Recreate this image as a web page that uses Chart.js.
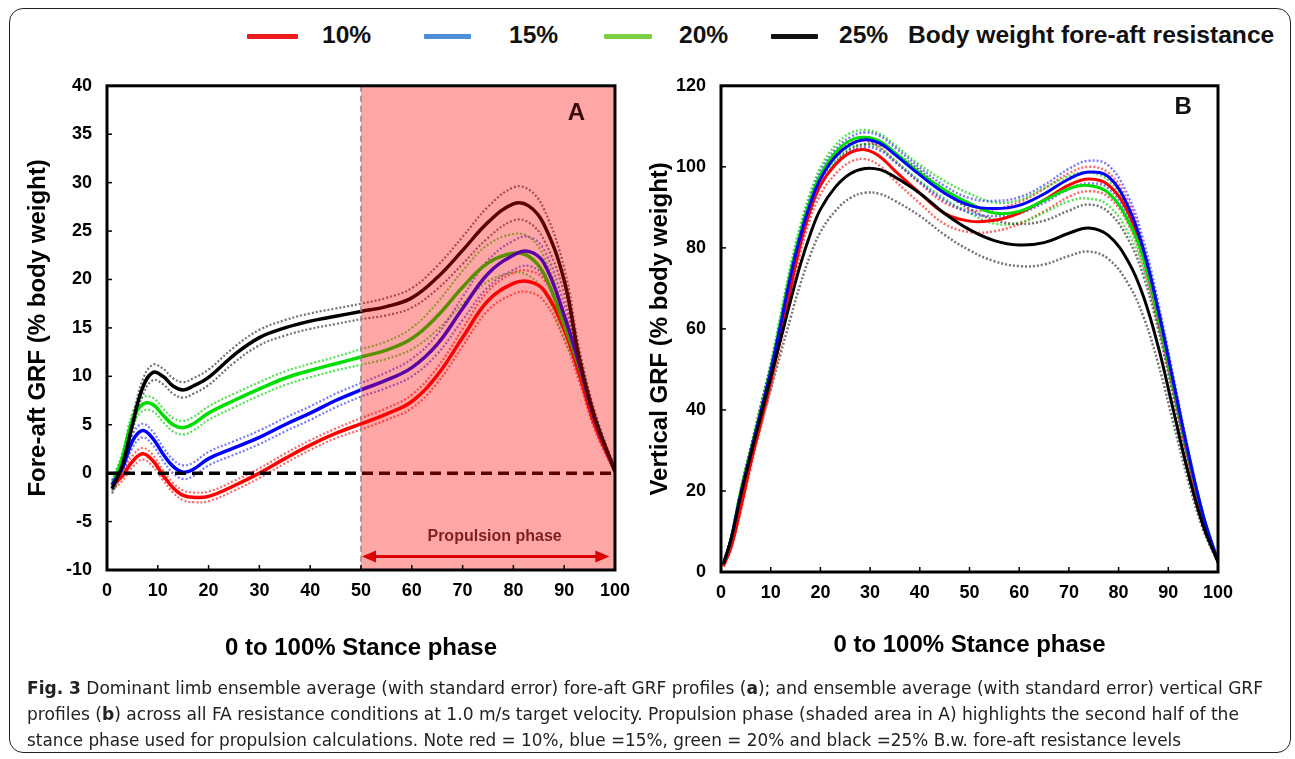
<!DOCTYPE html>
<html><head><meta charset="utf-8">
<script src="https://cdn.jsdelivr.net/npm/chart.js@4.4.1/dist/chart.umd.min.js"></script>
<style>
html,body{margin:0;padding:0;background:#fff;}
body{width:1295px;height:759px;position:relative;overflow:hidden;font-family:"Liberation Sans",Arial,sans-serif;}
#frame{position:absolute;left:9px;top:8px;width:1282px;height:745px;box-sizing:border-box;border:1.5px solid #222;border-radius:14px;}
canvas{position:absolute;}
#cA{left:0;top:60px;}
#cB{left:640px;top:60px;}
.lg-line{position:absolute;height:5px;top:34px;border-radius:1px;}
.lg-text{position:absolute;top:20px;font-weight:bold;font-size:24.6px;line-height:30px;color:#111;white-space:nowrap;}
#caption{position:absolute;left:27px;top:675px;font-family:"Liberation Sans Narrow","DejaVu Sans Condensed",sans-serif;font-size:17px;line-height:26px;color:#222;z-index:2;}
#caption .ln{display:block;white-space:nowrap;transform-origin:0 0;width:max-content;}
</style></head>
<body>
<div id="frame"></div>
<div id="legend"></div>
<canvas id="cA" width="640" height="620"></canvas>
<canvas id="cB" width="655" height="620"></canvas>
<div id="caption">
<span class="ln" data-w="1236"><b>Fig. 3</b> Dominant limb ensemble average (with standard error) fore-aft GRF profiles (<b>a</b>); and ensemble average (with standard error) vertical GRF</span>
<span class="ln" data-w="1212">profiles (<b>b</b>) across all FA resistance conditions at 1.0 m/s target velocity. Propulsion phase (shaded area in A) highlights the second half of the</span>
<span class="ln" data-w="1154">stance phase used for propulsion calculations. Note red = 10%, blue =15%, green = 20% and black =25% B.w. fore-aft resistance levels</span>
</div>
<script>
// ---------------- DATA ----------------
const SERIES_LABELS = ['10%', '15%', '20%', '25%'];
const LEGEND_SUFFIX = 'Body weight fore-aft resistance';

// Panel A: fore-aft GRF (% body weight) vs stance phase (%)
const X_FA = [1, 3, 5, 7, 9, 11, 13, 15, 17, 20, 25, 30, 35, 40, 45, 50, 55, 60, 65, 70, 75, 80, 83, 86, 90, 93, 96, 100];
const FA_10 = [-1.3, -0.3, 1.2, 2.0, 1.3, -0.2, -1.5, -2.3, -2.5, -2.4, -1.3, 0.0, 1.5, 2.9, 4.1, 5.1, 6.1, 7.4, 10.1, 14.0, 17.8, 19.6, 19.8, 18.9, 14.8, 10.2, 5.0, 0.2];
const FA_15 = [-1.2, 0.5, 3.3, 4.4, 3.6, 2.0, 0.7, 0.1, 0.4, 1.5, 2.6, 3.7, 5.0, 6.2, 7.5, 8.6, 9.6, 10.9, 13.3, 17.0, 20.6, 22.5, 22.9, 21.7, 16.3, 11.2, 5.6, 0.2];
const FA_20 = [-1.3, 1.5, 5.5, 7.1, 7.1, 6.0, 5.0, 4.7, 5.1, 6.2, 7.5, 8.7, 9.8, 10.6, 11.3, 12.0, 12.7, 13.9, 16.2, 19.2, 21.7, 22.7, 22.4, 20.6, 15.3, 10.9, 5.6, 0.2];
const FA_25 = [-1.6, 0.8, 5.0, 8.8, 10.4, 10.0, 9.0, 8.6, 9.0, 9.9, 12.2, 14.0, 15.0, 15.7, 16.2, 16.7, 17.2, 18.1, 20.2, 23.0, 25.9, 27.8, 27.6, 25.7, 19.9, 11.8, 5.8, 0.2];
const FA_SE_10 = [0.5, 0.5, 0.6, 0.6, 0.6, 0.5, 0.5, 0.5, 0.5, 0.5, 0.5, 0.5, 0.5, 0.5, 0.5, 0.6, 0.6, 0.7, 0.8, 0.9, 1.0, 1.1, 1.1, 1.1, 1.0, 0.8, 0.5, 0.2];
const FA_SE_15 = [0.5, 0.6, 0.7, 0.7, 0.7, 0.7, 0.7, 0.7, 0.7, 0.7, 0.7, 0.7, 0.7, 0.7, 0.7, 0.7, 0.8, 0.9, 1.0, 1.2, 1.4, 1.5, 1.5, 1.4, 1.2, 0.9, 0.6, 0.2];
const FA_SE_20 = [0.5, 0.6, 0.7, 0.7, 0.7, 0.7, 0.7, 0.7, 0.7, 0.7, 0.7, 0.7, 0.7, 0.7, 0.7, 0.8, 0.9, 1.1, 1.4, 1.7, 1.9, 2.0, 2.0, 1.8, 1.4, 1.0, 0.6, 0.2];
const FA_SE_25 = [0.5, 0.6, 0.7, 0.8, 0.8, 0.8, 0.8, 0.8, 0.8, 0.8, 0.8, 0.8, 0.8, 0.8, 0.8, 0.8, 0.9, 1.0, 1.2, 1.4, 1.6, 1.7, 1.7, 1.6, 1.3, 1.0, 0.6, 0.2];
const FA_ZERO_LINE = [0, 0];
const FA_ZERO_X = [0, 100];

// Panel B: vertical GRF (% body weight)
const X_V = [0.5, 2, 4, 6, 8, 10, 12, 14, 16, 18, 20, 23, 26, 29, 32, 35, 40, 45, 50, 55, 60, 65, 70, 74, 78, 82, 85, 88, 91, 94, 97, 100];
const V_10 = [1.5, 6, 16, 27, 37, 47, 58, 70, 81, 89.5, 95.5, 100.5, 103.5, 104.2, 102.5, 99, 93.5, 88.5, 86.6, 86.8, 88.6, 91.8, 95.5, 97, 95.5, 88.5, 78, 63, 46, 28.5, 13.5, 2.5];
const V_15 = [2, 8, 19.5, 29.5, 39.5, 49.5, 61, 73, 83, 91, 97, 102.5, 105.5, 106.7, 105.8, 103, 98, 93.5, 90.5, 89.7, 90.5, 93.3, 97, 98.7, 97.5, 90, 79.5, 64.5, 47, 29.5, 14, 2.5];
const V_20 = [2, 8, 20, 30, 40, 50, 62, 74, 84, 92, 98, 103.5, 106.5, 107.3, 106.3, 103.5, 98.5, 94.3, 91, 88.6, 89, 91.7, 94.6, 95.4, 93.5, 86.5, 77.5, 63, 46, 29, 14, 2.5];
const V_25 = [2, 8, 19, 29, 38.5, 48, 57.5, 67, 76, 83.5, 89.5, 95, 98.3, 99.6, 99.3, 97.5, 93.5, 88.5, 84.5, 81.8, 80.7, 81.3, 83.6, 84.9, 83, 76.5, 68, 55.5, 40, 24.5, 11.5, 2.5];
const V_SE_10 = [0.2, 0.4, 0.8, 1.1, 1.4, 1.6, 1.8, 2.0, 2.1, 2.2, 2.3, 2.3, 2.3, 2.3, 2.3, 2.4, 2.5, 2.6, 2.7, 2.7, 2.7, 2.8, 2.9, 3.0, 3.0, 2.8, 2.5, 2.0, 1.5, 1.0, 0.5, 0.2];
const V_SE_15 = [0.2, 0.4, 0.7, 0.9, 1.1, 1.3, 1.4, 1.5, 1.6, 1.7, 1.8, 1.8, 1.8, 1.8, 1.8, 1.8, 1.8, 1.8, 1.8, 1.9, 2.0, 2.2, 2.5, 2.8, 2.8, 2.6, 2.3, 1.9, 1.4, 0.9, 0.5, 0.2];
const V_SE_20 = [0.2, 0.4, 0.8, 1.0, 1.2, 1.4, 1.6, 1.7, 1.8, 1.8, 1.8, 1.8, 1.8, 1.8, 1.8, 1.9, 2.0, 2.2, 2.4, 2.6, 2.8, 3.0, 3.1, 3.2, 3.1, 2.9, 2.6, 2.1, 1.6, 1.0, 0.5, 0.2];
const V_SE_25 = [0.2, 0.6, 1.2, 1.8, 2.4, 3.0, 3.6, 4.2, 4.8, 5.2, 5.6, 5.9, 6.0, 6.0, 6.0, 5.9, 5.6, 5.3, 5.1, 5.1, 5.2, 5.4, 5.6, 5.8, 5.8, 5.5, 5.0, 4.2, 3.2, 2.0, 1.0, 0.3];

// Tick labels
const X_TICKS = [0, 10, 20, 30, 40, 50, 60, 70, 80, 90, 100];
const FA_Y_TICKS = [-10, -5, 0, 5, 10, 15, 20, 25, 30, 35, 40];
const V_Y_TICKS = [0, 20, 40, 60, 80, 100, 120];

// Texts & annotation values
const X_TITLE = '0 to 100% Stance phase';
const FA_Y_TITLE = 'Fore-aft GRF (% body weight)';
const V_Y_TITLE = 'Vertical GRF (% body weight)';
const PHASE_START = 50, PHASE_END = 100;
const PHASE_LABEL = 'Propulsion phase';
const PHASE_LABEL_POS = [76.3, -6.6];
const ARROW_RANGE = [50.2, 98.9];
const ARROW_Y = -8.6;
const PANEL_A_POS = [92.4, 37.2];
const PANEL_B_POS = [93, 114.6];

// ---------------- STYLE ----------------
const FONT = '"Liberation Sans", Arial, sans-serif';
Chart.defaults.font.family = FONT;
Chart.defaults.font.weight = 'bold';
Chart.defaults.color = '#000';

const MEAN_COLORS = ['#ff0000', '#0000ff', '#00dd00', '#000000'];
const SE_COLORS = ['rgba(255,40,40,0.7)', 'rgba(50,50,255,0.65)', 'rgba(30,215,30,0.75)', 'rgba(70,70,70,0.75)'];
const LEGEND_COLORS = ['#ee1c1c', '#4f8fd8', '#7cd043', '#111111'];
const DRAW_ORDER = [4, 2, 3, 1];

// legend (HTML)
const LEGEND_LAYOUT = [[247, 51, 322], [424, 47, 509], [604, 48, 679], [771, 47, 839]];
(function buildLegend() {
  const lg = document.getElementById('legend');
  SERIES_LABELS.forEach((lab, k) => {
    const [lx, lw, tx] = LEGEND_LAYOUT[k];
    const l = document.createElement('div');
    l.className = 'lg-line';
    l.style.left = lx + 'px'; l.style.width = lw + 'px'; l.style.background = LEGEND_COLORS[k];
    lg.appendChild(l);
    const t = document.createElement('div');
    t.className = 'lg-text'; t.style.left = tx + 'px'; t.textContent = lab;
    lg.appendChild(t);
  });
  const s = document.createElement('div');
  s.className = 'lg-text'; s.style.left = '908px'; s.textContent = LEGEND_SUFFIX;
  lg.appendChild(s);
})();

function buildDatasets(xs, means, ses, meanW, seW) {
  const ds = [];
  means.forEach((m, k) => {
    ds.push({
      label: SERIES_LABELS[k],
      data: xs.map((x, i) => ({ x, y: m[i] })),
      borderColor: MEAN_COLORS[k], borderWidth: meanW, order: DRAW_ORDER[k],
      pointRadius: 0, fill: false, tension: 0.4
    });
    [1, -1].forEach(sg => ds.push({
      label: SERIES_LABELS[k] + (sg > 0 ? ' +SE' : ' -SE'),
      data: xs.map((x, i) => ({ x, y: m[i] + sg * ses[k][i] })),
      borderColor: SE_COLORS[k], borderWidth: seW, borderDash: [2, 2], order: 10 + DRAW_ORDER[k],
      pointRadius: 0, fill: false, tension: 0.4
    }));
  });
  return ds;
}

function framePlugin(id) {
  return {
    id,
    afterDraw(chart) {
      const { ctx, chartArea: ca, scales: { x, y } } = chart;
      ctx.save();
      ctx.strokeStyle = '#000'; ctx.lineWidth = 1.5;
      x.ticks.forEach(t => {
        const px = x.getPixelForValue(t.value);
        if (px <= ca.left + 1 || px >= ca.right - 1) return;
        ctx.beginPath(); ctx.moveTo(px, ca.bottom); ctx.lineTo(px, ca.bottom - 5); ctx.stroke();
      });
      y.ticks.forEach(t => {
        const py = y.getPixelForValue(t.value);
        if (py <= ca.top + 1 || py >= ca.bottom - 1) return;
        ctx.beginPath(); ctx.moveTo(ca.left, py); ctx.lineTo(ca.left + 5, py); ctx.stroke();
      });
      ctx.lineWidth = 3;
      ctx.strokeRect(ca.left, ca.top, ca.right - ca.left, ca.bottom - ca.top);
      ctx.restore();
    }
  };
}

function scalesFor(yTicks, yTitle, yTitlePad, yWidth, xHeight, xTitlePad) {
  return {
    x: {
      type: 'linear', min: X_TICKS[0], max: X_TICKS[X_TICKS.length - 1],
      afterBuildTicks: s => { s.ticks = X_TICKS.map(v => ({ value: v })); },
      grid: { display: false, drawTicks: false }, border: { display: false },
      ticks: { font: { size: 18, weight: 'bold' }, padding: 10, maxRotation: 0, autoSkip: false, color: '#000' },
      title: { display: true, text: X_TITLE, font: { size: 24, weight: 'bold' }, color: '#000', padding: { top: 0, bottom: xTitlePad } },
      afterFit: s => { s.height = xHeight; }
    },
    y: {
      type: 'linear', min: yTicks[0], max: yTicks[yTicks.length - 1],
      afterBuildTicks: s => { s.ticks = yTicks.map(v => ({ value: v })); },
      grid: { display: false, drawTicks: false }, border: { display: false },
      ticks: { font: { size: 18, weight: 'bold' }, padding: 15, color: '#000' },
      title: { display: true, text: yTitle, font: { size: 24, weight: 'bold' }, color: '#000', padding: { top: yTitlePad, bottom: 0 } },
      afterFit: s => { s.width = yWidth; }
    }
  };
}

// ---------------- PANEL A ----------------
const phasePlugin = {
  id: 'phaseA',
  afterDatasetsDraw(chart) {
    const { ctx, chartArea: ca, scales: { x, y } } = chart;
    ctx.save();
    const ay = y.getPixelForValue(ARROW_Y);
    const a1 = x.getPixelForValue(ARROW_RANGE[0]), a2 = x.getPixelForValue(ARROW_RANGE[1]);
    ctx.strokeStyle = '#c80000'; ctx.fillStyle = '#c80000'; ctx.lineWidth = 3;
    ctx.beginPath(); ctx.moveTo(a1 + 8, ay); ctx.lineTo(a2 - 8, ay); ctx.stroke();
    ctx.beginPath(); ctx.moveTo(a1, ay); ctx.lineTo(a1 + 14, ay - 6); ctx.lineTo(a1 + 14, ay + 6); ctx.closePath(); ctx.fill();
    ctx.beginPath(); ctx.moveTo(a2, ay); ctx.lineTo(a2 - 14, ay - 6); ctx.lineTo(a2 - 14, ay + 6); ctx.closePath(); ctx.fill();
    ctx.font = 'bold 16px ' + FONT; ctx.fillStyle = '#333'; ctx.textAlign = 'center'; ctx.textBaseline = 'middle';
    ctx.fillText(PHASE_LABEL, x.getPixelForValue(PHASE_LABEL_POS[0]), y.getPixelForValue(PHASE_LABEL_POS[1]));
    const p1 = x.getPixelForValue(PHASE_START), p2 = x.getPixelForValue(PHASE_END);
    ctx.fillStyle = 'rgba(255,0,0,0.35)';
    ctx.fillRect(p1, ca.top, p2 - p1, ca.bottom - ca.top);
    ctx.strokeStyle = '#8a8a8a'; ctx.lineWidth = 1.5; ctx.setLineDash([6, 4]);
    ctx.beginPath(); ctx.moveTo(p1, ca.top); ctx.lineTo(p1, ca.bottom); ctx.stroke();
    ctx.setLineDash([]);
    ctx.font = 'bold 24px ' + FONT; ctx.fillStyle = '#3a0c0c';
    ctx.fillText('A', x.getPixelForValue(PANEL_A_POS[0]), y.getPixelForValue(PANEL_A_POS[1]));
    ctx.restore();
  }
};

const dsA = buildDatasets(X_FA, [FA_10, FA_15, FA_20, FA_25], [FA_SE_10, FA_SE_15, FA_SE_20, FA_SE_25], 3.5, 2.2);
dsA.push({
  label: 'zero', data: FA_ZERO_X.map((x, i) => ({ x, y: FA_ZERO_LINE[i] })),
  borderColor: '#000', borderWidth: 3.5, borderDash: [11, 6], order: 0, pointRadius: 0, fill: false
});

new Chart(document.getElementById('cA'), {
  type: 'line',
  data: { datasets: dsA },
  options: {
    responsive: false, animation: false, devicePixelRatio: 1,
    layout: { padding: { top: 20, right: 22, left: 0, bottom: 0 } },
    plugins: { legend: { display: false }, tooltip: { enabled: false } },
    scales: scalesFor(FA_Y_TICKS, FA_Y_TITLE, 24, 107, 110, 17)
  },
  plugins: [phasePlugin, framePlugin('frameA')]
});

// ---------------- PANEL B ----------------
const labelB = {
  id: 'labelB',
  afterDatasetsDraw(chart) {
    const { ctx, scales: { x, y } } = chart;
    ctx.save();
    ctx.font = 'bold 24px ' + FONT; ctx.fillStyle = '#111'; ctx.textAlign = 'center'; ctx.textBaseline = 'middle';
    ctx.fillText('B', x.getPixelForValue(PANEL_B_POS[0]), y.getPixelForValue(PANEL_B_POS[1]));
    ctx.restore();
  }
};

const dsB = buildDatasets(X_V, [V_10, V_15, V_20, V_25], [V_SE_10, V_SE_15, V_SE_20, V_SE_25], 3, 2.5);
new Chart(document.getElementById('cB'), {
  type: 'line',
  data: { datasets: dsB },
  options: {
    responsive: false, animation: false, devicePixelRatio: 1,
    layout: { padding: { top: 23, right: 77, left: 0, bottom: 0 } },
    plugins: { legend: { display: false }, tooltip: { enabled: false } },
    scales: scalesFor(V_Y_TICKS, V_Y_TITLE, 6, 81, 108, 20)
  },
  plugins: [labelB, framePlugin('frameB')]
});

// caption width fit
document.querySelectorAll('#caption .ln').forEach(el => {
  const w = el.getBoundingClientRect().width;
  const target = +el.dataset.w;
  if (w > 0) el.style.transform = 'scaleX(' + (target / w) + ')';
});
</script>
</body></html>
